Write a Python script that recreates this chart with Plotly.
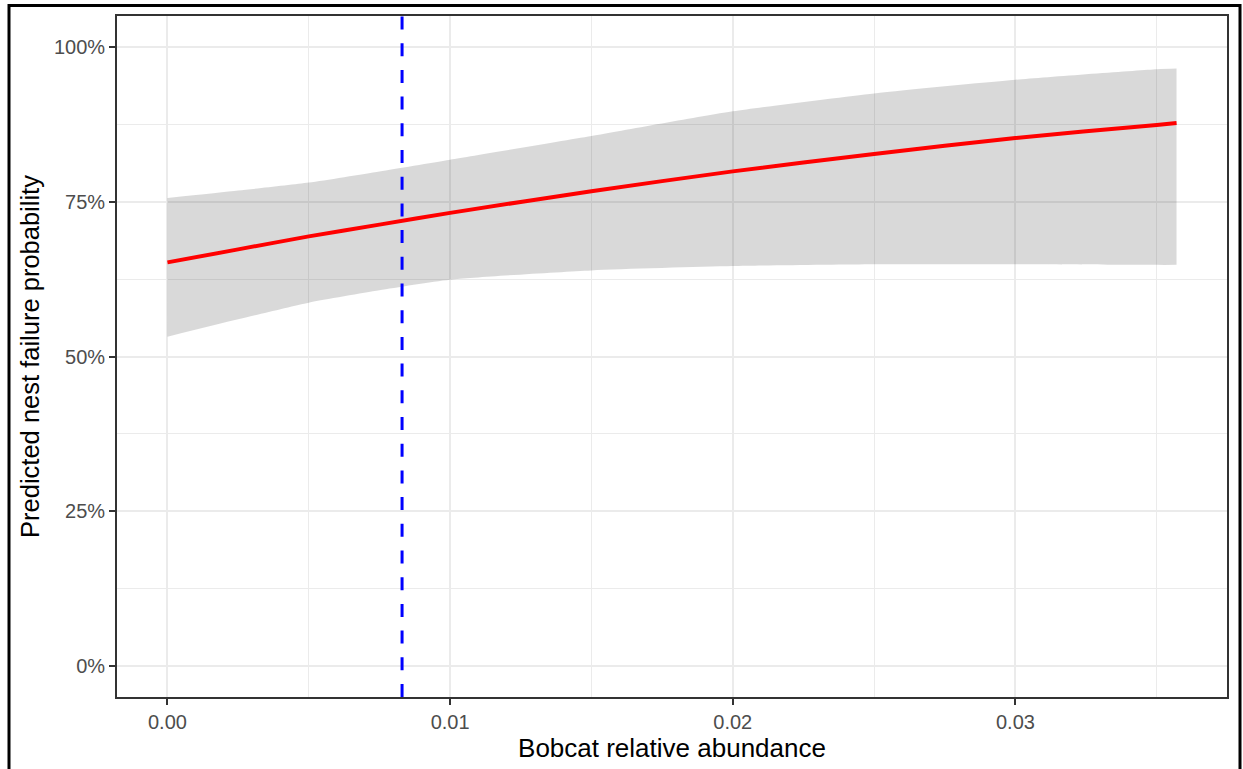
import plotly.graph_objects as go

# Data
abundance = [0.0, 0.0025, 0.005, 0.0075, 0.01, 0.015, 0.02, 0.025, 0.03, 0.035, 0.0357]
fit = [0.652, 0.673, 0.694, 0.713, 0.732, 0.767, 0.799, 0.827, 0.853, 0.874, 0.877]
upper = [0.756, 0.768, 0.781, 0.799, 0.818, 0.856, 0.896, 0.925, 0.947, 0.964, 0.965]
lower = [0.532, 0.560, 0.587, 0.607, 0.624, 0.639, 0.646, 0.649, 0.649, 0.648, 0.648]
vline_x = 0.0083

x_ticks = [0.0, 0.01, 0.02, 0.03]
x_ticklabels = ["0.00", "0.01", "0.02", "0.03"]
y_ticks = [0.0, 0.25, 0.5, 0.75, 1.0]
y_ticklabels = ["0%", "25%", "50%", "75%", "100%"]

FONT = "Liberation Sans, Arial, sans-serif"
GRID = "#EBEBEB"

xspan = max(abundance) - min(abundance)
xrange = [min(abundance) - 0.05 * xspan, max(abundance) + 0.05 * xspan]

fig = go.Figure()
fig.add_trace(go.Scatter(x=abundance, y=lower, mode="lines",
                         line=dict(width=0, shape="spline", smoothing=0.6),
                         hoverinfo="skip", showlegend=False))
fig.add_trace(go.Scatter(x=abundance, y=upper, mode="lines",
                         line=dict(width=0, shape="spline", smoothing=0.6),
                         fill="tonexty", fillcolor="rgba(0,0,0,0.15)",
                         hoverinfo="skip", showlegend=False))
fig.add_trace(go.Scatter(x=abundance, y=fit, mode="lines",
                         line=dict(color="#FF0000", width=4, shape="spline", smoothing=0.6),
                         showlegend=False))

fig.add_vline(x=vline_x, line=dict(color="#0000FF", width=3, dash="13px,13.7px"), layer="above")

axis_common = dict(
    showline=True, linecolor="#333333", linewidth=1.8, mirror=True,
    ticks="outside", ticklen=6, tickwidth=1.5, tickcolor="#333333",
    showgrid=True, gridcolor=GRID, gridwidth=1.5, zeroline=False,
    tickfont=dict(family=FONT, size=20, color="#4D4D4D"),
)

fig.update_xaxes(
    range=xrange, tickvals=x_ticks, ticktext=x_ticklabels,
    minor=dict(dtick=0.005, tick0=0, showgrid=True, gridcolor=GRID, gridwidth=0.8, ticks=""),
    title=dict(text="Bobcat relative abundance", font=dict(family=FONT, size=26, color="#000000"),
               standoff=6),
    **axis_common,
)
fig.update_yaxes(
    range=[-0.05, 1.05], tickvals=y_ticks, ticktext=y_ticklabels,
    minor=dict(dtick=0.125, tick0=0, showgrid=True, gridcolor=GRID, gridwidth=0.8, ticks=""),
    title=dict(text="Predicted nest failure probability", font=dict(family=FONT, size=25.5, color="#000000"),
               standoff=7),
    **axis_common,
)

L, T, R, B = 117, 16, 16, 69
W, H = 1243, 769
pw, ph = W - L - R, H - T - B
# outer black frame around the whole figure
fig.add_shape(type="rect", xref="paper", yref="paper",
              x0=(9 - L) / pw, x1=(1240 - L) / pw,
              y0=(H - B - 780) / ph, y1=(H - B - 5.5) / ph,
              line=dict(color="#000000", width=3), fillcolor="rgba(0,0,0,0)", layer="above")

fig.update_layout(
    width=W, height=H, autosize=False,
    margin=dict(l=L, r=R, t=T, b=B, pad=0),
    plot_bgcolor="#FFFFFF", paper_bgcolor="#FFFFFF",
    showlegend=False,
)

fig.write_html("out.html", config={"displayModeBar": False},
               post_script="document.body.style.margin='0';")
